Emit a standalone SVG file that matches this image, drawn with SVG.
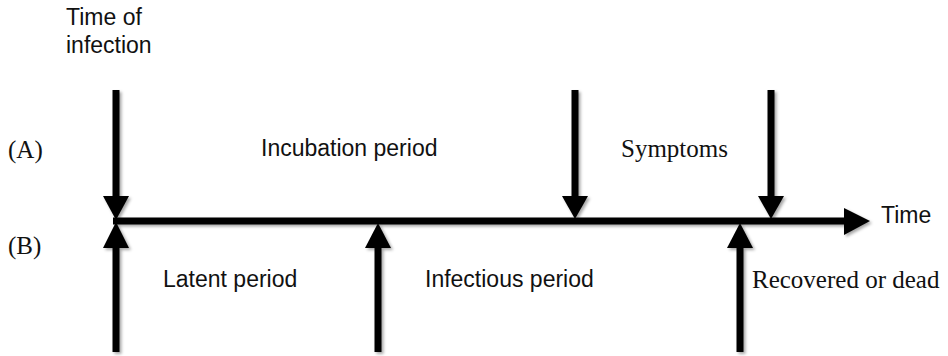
<svg xmlns="http://www.w3.org/2000/svg" width="948" height="356" viewBox="0 0 948 356">
<defs>
<filter id="sh" x="-50%" y="-50%" width="200%" height="200%">
<feDropShadow dx="2" dy="2" stdDeviation="1.6" flood-color="#000" flood-opacity="0.35"/>
</filter>
</defs>
<style>
.ln{stroke:#000;stroke-width:7;fill:none}
.hd{fill:#000}
.s{font-family:"Liberation Sans",Arial,sans-serif;font-size:23px;fill:#111}
.r{font-family:"Liberation Serif","Times New Roman",serif;font-size:25px;fill:#111}
</style>
<rect width="948" height="356" fill="#fff"/>
<g id="connectors" filter="url(#sh)">
<line class="ln" x1="113" y1="221" x2="846" y2="221"/>
<polygon class="hd" points="844,208 870,221 844,235"/>
<line class="ln" x1="116" y1="90" x2="116" y2="198"/>
<polygon class="hd" points="103,196 129,196 116,220"/>
<line class="ln" x1="575" y1="90" x2="575" y2="198"/>
<polygon class="hd" points="562,196 588,196 575,219"/>
<line class="ln" x1="771" y1="90" x2="771" y2="198"/>
<polygon class="hd" points="758,196 784,196 771,219"/>
<line class="ln" x1="116" y1="246" x2="116" y2="352"/>
<polygon class="hd" points="103,248 129,248 116,222"/>
<line class="ln" x1="378" y1="246" x2="378" y2="352"/>
<polygon class="hd" points="365,248 391,248 378,223"/>
<line class="ln" x1="740" y1="246" x2="740" y2="352"/>
<polygon class="hd" points="727,248 753,248 740,223"/>
</g>
<g id="time-of-infection"><text class="s" x="66" y="25">Time of</text><text class="s" x="66" y="53">infection</text></g>
<g id="label-a"><text class="r" x="8" y="158">(A)</text></g>
<g id="label-b"><text class="r" x="8" y="254">(B)</text></g>
<g id="incubation"><text class="s" x="261" y="156">Incubation period</text></g>
<g id="symptoms"><text class="r" x="621" y="157">Symptoms</text></g>
<g id="time"><text class="s" x="881" y="223">Time</text></g>
<g id="latent"><text class="s" x="163" y="287">Latent period</text></g>
<g id="infectious"><text class="s" x="425" y="287">Infectious period</text></g>
<g id="recovered"><text class="r" x="752" y="288">Recovered or dead</text></g>
</svg>
